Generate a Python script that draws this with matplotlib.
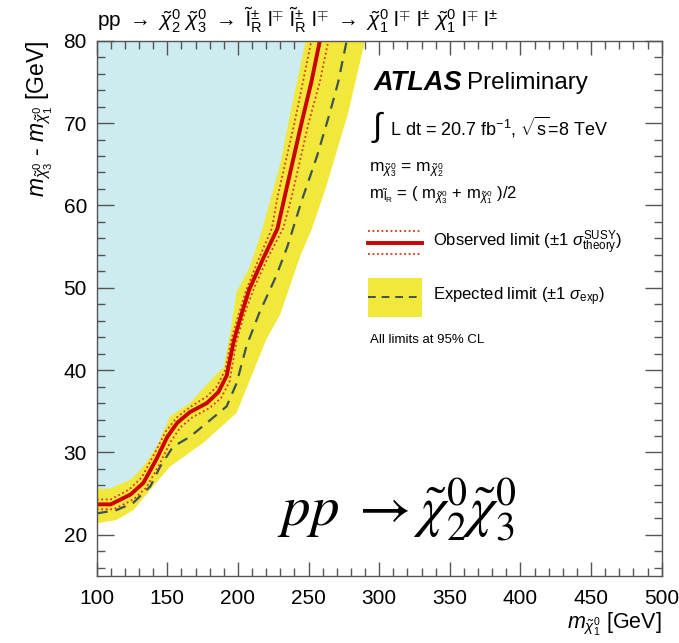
import matplotlib
matplotlib.use("Agg")
import matplotlib.pyplot as plt
from matplotlib.ticker import MultipleLocator
import numpy as np

plt.rcParams['font.family'] = ['Liberation Sans', 'DejaVu Sans']
plt.rcParams['mathtext.fontset'] = 'custom'
plt.rcParams['mathtext.rm'] = 'Liberation Sans'
plt.rcParams['mathtext.it'] = 'Liberation Sans:italic'
plt.rcParams['mathtext.bf'] = 'Liberation Sans:bold'
plt.rcParams['mathtext.sf'] = 'Liberation Sans'

# ---------------- data (m_chi1 [GeV], delta m [GeV]) ----------------
obs_x = [100, 110, 124, 133, 142, 150, 157, 166, 178, 186, 192, 197, 202, 208, 218, 228, 233, 245, 252, 258]
obs_y = [23.7, 23.7, 24.9, 26.3, 29.1, 31.9, 33.6, 34.9, 36.0, 37.3, 39.3, 43.5, 46.5, 49.8, 53.6, 57.2, 61.0, 70.0, 75.0, 80.0]

obs_up_x = [100, 110, 123, 132, 141, 149, 157, 166, 178, 185, 191, 195, 200, 206, 215, 224, 228, 240, 246, 252]
obs_up_y = [24.3, 24.3, 25.5, 27.0, 29.9, 32.6, 34.3, 35.5, 36.8, 38.0, 40.0, 43.5, 46.5, 49.8, 53.6, 57.2, 61.0, 70.0, 75.0, 80.0]

obs_dn_x = [100, 112, 126, 135, 144, 152, 159, 168, 180, 188, 194, 199, 204, 211, 221, 232, 238, 250, 258, 264]
obs_dn_y = [23.1, 23.1, 24.3, 25.7, 28.4, 31.2, 33.0, 34.3, 35.4, 36.6, 38.6, 43.5, 46.5, 49.8, 53.6, 57.2, 61.0, 70.0, 75.0, 80.0]

exp_x = [100, 114, 126, 138, 145, 154, 166, 178, 192, 199, 206, 215, 227, 235, 245, 256, 265, 271, 277]
exp_y = [22.6, 23.0, 23.9, 25.9, 28.3, 30.7, 31.9, 33.6, 35.6, 38.4, 42.9, 46.9, 51.4, 55.0, 60.5, 66.0, 71.2, 75.0, 80.0]

band_hi_x = [100, 109, 124, 133, 142.5, 152, 166, 183, 190, 194.5, 199, 208.5, 217, 223, 230, 237, 243, 248]
band_hi_y = [25.6, 25.6, 26.7, 28.3, 30.7, 34.4, 36.0, 39.2, 40.4, 44.5, 49.5, 52.6, 57.0, 60.7, 65.1, 71.2, 76.0, 80.0]

band_lo_x = [100, 114, 126, 142, 152, 175, 199, 208, 220, 230, 235, 244, 252, 262, 278, 290]
band_lo_y = [21.4, 21.8, 23.0, 26.3, 28.3, 31.1, 34.8, 38.6, 43.7, 46.8, 49.3, 53.8, 57.0, 62.0, 71.2, 80.0]

x_range = (100, 500)
y_range = (15, 80)

# ---------------- figure ----------------
W, H = 679, 643
fig = plt.figure(figsize=(W / 100, H / 100), dpi=100)
L, R, T, B = 96.7, 661.7, 40.7, 576.0
ax = fig.add_axes([L / W, 1 - B / H, (R - L) / W, (B - T) / H])
ax.set_xlim(*x_range)
ax.set_ylim(*y_range)

blue = '#cdecf0'
yellow = '#f2e83c'
red = '#cc0000'
dotc = '#e0301a'
dashc = '#3d5252'

# excluded region (blue)
bx = [x_range[0]] + obs_x + [x_range[0]]
by = [obs_y[0]] + obs_y + [y_range[1]]
ax.fill(bx, by, color=blue, lw=0, zorder=1)

# expected band (yellow)
yx = band_hi_x + band_lo_x[::-1]
yy = band_hi_y + band_lo_y[::-1]
ax.fill(yx, yy, color=yellow, lw=0, zorder=2)

ax.plot(exp_x, exp_y, color=dashc, lw=1.6, dashes=(5, 3.5), zorder=3)
ax.plot(obs_up_x, obs_up_y, color=dotc, lw=1.3, ls=(0, (1, 1.5)), zorder=4)
ax.plot(obs_dn_x, obs_dn_y, color=dotc, lw=1.3, ls=(0, (1, 1.5)), zorder=4)
ax.plot(obs_x, obs_y, color=red, lw=2.8, zorder=5)

# ticks
ax.xaxis.set_major_locator(MultipleLocator(50))
ax.xaxis.set_minor_locator(MultipleLocator(10))
ax.yaxis.set_major_locator(MultipleLocator(10))
ax.yaxis.set_minor_locator(MultipleLocator(2))
ax.tick_params(axis='both', which='both', direction='in', top=True, right=True,
               colors='#555555', labelcolor='black', width=1.0, labelsize=15)
ax.tick_params(axis='x', which='major', length=10, pad=9)
ax.tick_params(axis='x', which='minor', length=5.5)
ax.tick_params(axis='y', which='major', length=12, pad=7)
ax.tick_params(axis='y', which='minor', length=6)
for s in ax.spines.values():
    s.set_color('#555555')
    s.set_linewidth(1.0)
    s.set_zorder(10)

ax.set_xlabel(r'$m_{\tilde{\chi}_1^0}$ [GeV]', fontsize=15.5, loc='right', labelpad=2)
ax.set_ylabel(r'$m_{\tilde{\chi}_3^0}$ - $m_{\tilde{\chi}_1^0}$ [GeV]', fontsize=16.5, loc='top', labelpad=6)


def F(px, py):
    return px / W, 1 - py / H


fig.text(*F(97, 20),
         r'pp $\rightarrow\ \tilde{\chi}_2^0\ \tilde{\chi}_3^0\ \rightarrow\ '
         r'\tilde{\mathrm{l}}_{\mathrm{R}}^{\pm}\ \mathrm{l}^{\mp}\ \tilde{\mathrm{l}}_{\mathrm{R}}^{\pm}\ \mathrm{l}^{\mp}\ \rightarrow\ '
         r'\tilde{\chi}_1^0\ \mathrm{l}^{\mp}\ \mathrm{l}^{\pm}\ \tilde{\chi}_1^0\ \mathrm{l}^{\mp}\ \mathrm{l}^{\pm}$',
         fontsize=15, ha='left', va='center')

fig.text(*F(374, 83), 'ATLAS', fontsize=19.5, fontweight='bold', fontstyle='italic', ha='left', va='center')
fig.text(*F(467, 83), 'Preliminary', fontsize=17.5, ha='left', va='center')
fig.text(*F(371, 127), r'$\int$', fontsize=24, ha='left', va='center')
fig.text(*F(390, 127), r'L dt = 20.7 fb$^{-1}$, $\sqrt{\mathrm{s}}$=8 TeV', fontsize=13, ha='left', va='center')
fig.text(*F(369, 170), r'm$_{\tilde{\chi}_3^0}$ = m$_{\tilde{\chi}_2^0}$', fontsize=12.5, ha='left', va='center')
fig.text(*F(369, 195), r'm$_{\tilde{\mathrm{l}}_{\mathrm{R}}}$ = ( m$_{\tilde{\chi}_3^0}$ + m$_{\tilde{\chi}_1^0}$ )/2',
         fontsize=12, ha='left', va='center')

# legend entries
lx0, lx1 = 368, 422
fig.add_artist(plt.Line2D([lx0 / W, lx1 / W], [1 - 243 / H] * 2, color=red, lw=2.8))
fig.add_artist(plt.Line2D([lx0 / W, lx1 / W], [1 - 231 / H] * 2, color=dotc, lw=1.3, ls=(0, (1, 1.5))))
fig.add_artist(plt.Line2D([lx0 / W, lx1 / W], [1 - 254 / H] * 2, color=dotc, lw=1.3, ls=(0, (1, 1.5))))
fig.text(*F(433, 243), r'Observed limit ($\pm$1 $\sigma^{\mathrm{SUSY}}_{\mathrm{theory}}$)', fontsize=12, ha='left', va='center')

fig.add_artist(plt.Rectangle((lx0 / W, 1 - 317 / H), (lx1 - lx0) / W, 39 / H, color=yellow, lw=0))
fig.add_artist(plt.Line2D([lx0 / W, lx1 / W], [1 - 297 / H] * 2, color=dashc, lw=1.4, dashes=(4, 3)))
fig.text(*F(433, 297), r'Expected limit ($\pm$1 $\sigma_{\mathrm{exp}}$)', fontsize=12, ha='left', va='center')

fig.text(*F(370, 340), 'All limits at 95% CL', fontsize=9.5, ha='left', va='center')

fig.text(*F(277, 510), r'$pp\; \rightarrow \tilde{\chi}_2^0\tilde{\chi}_3^0$', fontsize=41,
         math_fontfamily='stix', ha='left', va='center')

fig.savefig('out.png', dpi=100)
